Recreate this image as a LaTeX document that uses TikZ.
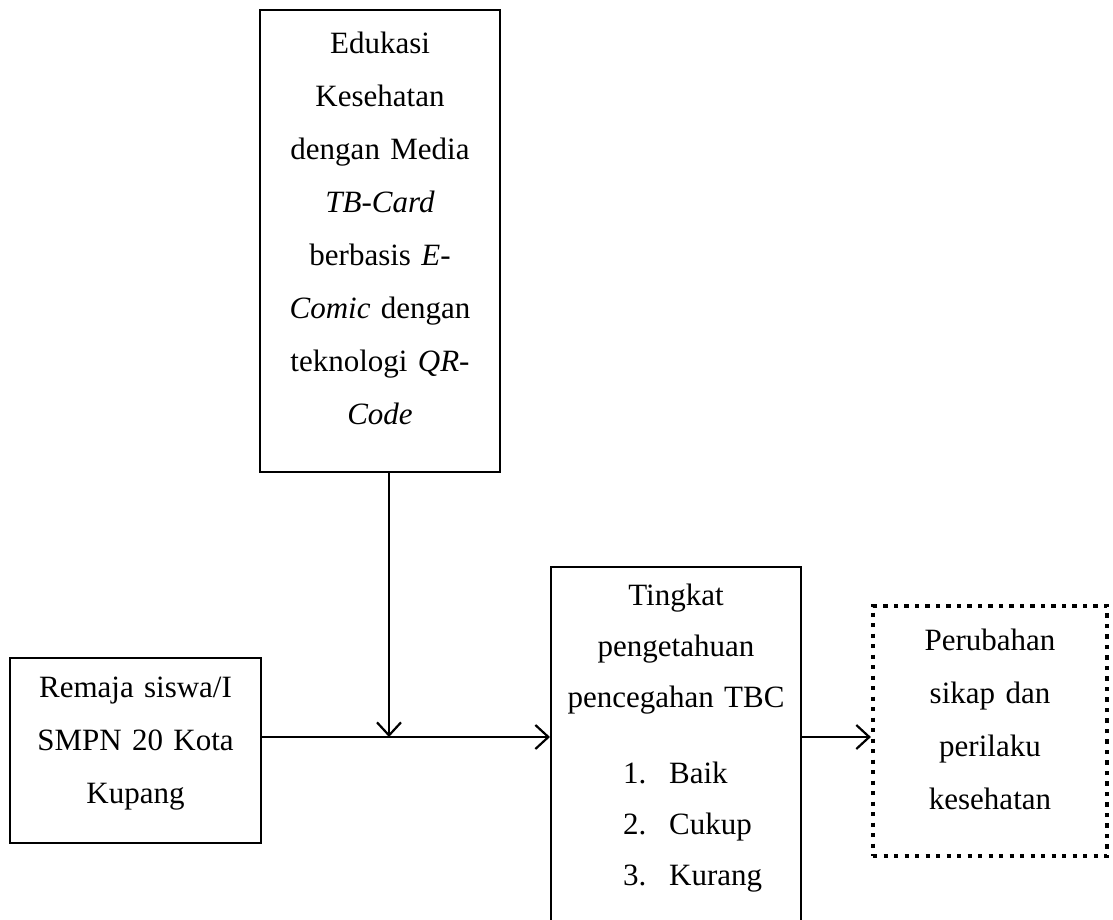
\documentclass[tikz,border=0pt]{standalone}
\usepackage{fontspec}
\setmainfont{Liberation Serif}
\usepackage{tikz}
\usetikzlibrary{positioning,arrows.meta}

\begin{document}
\begin{tikzpicture}[x=1pt,y=-1pt,
  box/.style={draw, line width=2pt, inner sep=0pt},
  dotbox/.style={draw, line width=4.2pt, dash pattern=on 4.2pt off 6.3pt, inner sep=0pt},
  txt/.style={inner sep=0pt, anchor=base, align=center, text width=236pt},
  arr/.style={line width=2.2pt, -{Straight Barb[length=13pt,width=24pt]}}]
  \useasboundingbox (0,0) rectangle (1113,920);

  % Boxes
  \node[box, minimum width=240pt, minimum height=462pt] (edu) at (380,241) {};
  \node[box, minimum width=251pt, minimum height=185pt] (youth) at (135.5,750.5) {};
  \node[box, minimum width=250pt, minimum height=380pt] (know) at (676,757) {};
  \node[dotbox, minimum width=234pt, minimum height=250pt] (change) at (990,731) {};

  % Texts
  \node[txt, font=\fontsize{31}{53}\selectfont] (edutxt) at (380,54)
    {Edukasi\\ Kesehatan\\ dengan Media\\ \textit{TB-Card}\\ berbasis \textit{E-}\\
     \textit{Comic} dengan\\ teknologi \textit{QR-}\\ \textit{Code}};
  \node[txt, font=\fontsize{31}{53}\selectfont] (youthtxt) at (135.5,697)
    {Remaja siswa/I\\ SMPN 20 Kota\\ Kupang};
  \node[txt, font=\fontsize{31}{51}\selectfont] (knowtxt) at (676,605)
    {Tingkat\\ pengetahuan\\ pencegahan TBC};
  \node[inner sep=0pt, anchor=base west, align=left, text width=170pt,
    font=\fontsize{31}{51}\selectfont] (levels) at (623,783)
    {\makebox[46pt][l]{1.}Baik\\ \makebox[46pt][l]{2.}Cukup\\ \makebox[46pt][l]{3.}Kurang};
  \node[txt, font=\fontsize{31}{53}\selectfont] (changetxt) at (990,650)
    {Perubahan\\ sikap dan\\ perilaku\\ kesehatan};

  % Arrows
  \coordinate (join) at (389,737);
  \draw[arr] (edu.south -| join) -- (join);
  \draw[arr] (youth.east |- join) -- (know.west |- join);
  \draw[arr] (know.east |- join) -- (change.west |- join);
\end{tikzpicture}
\end{document}
